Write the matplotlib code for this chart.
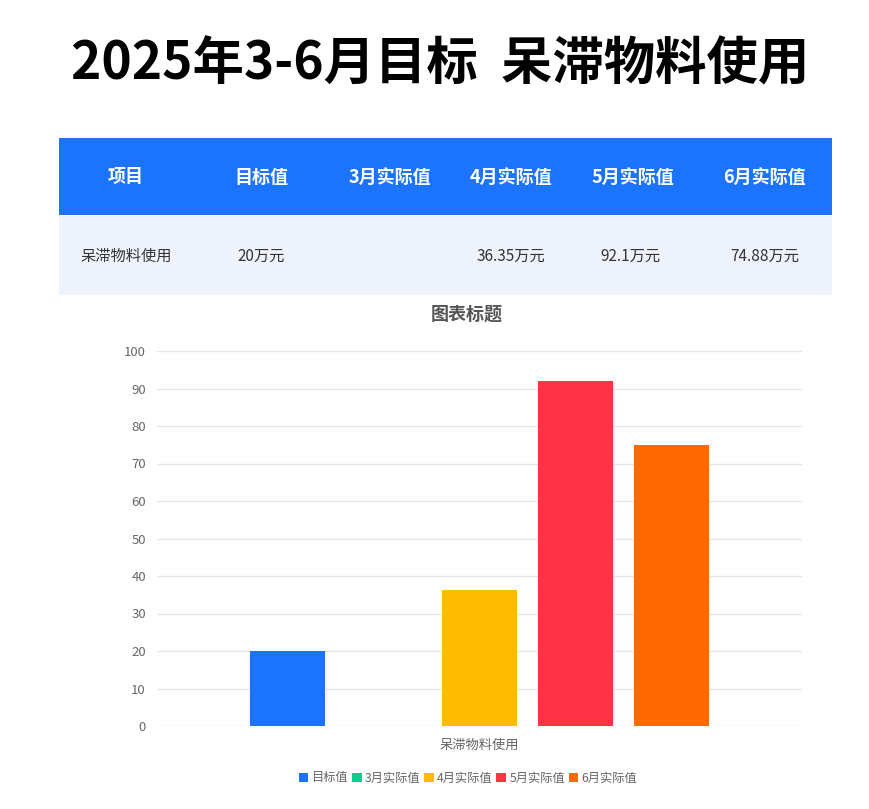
import numpy as np
import matplotlib
matplotlib.use("Agg")
import matplotlib.pyplot as plt
from matplotlib.patches import Rectangle, Patch

plt.rcParams['font.family'] = ['Noto Sans CJK SC', 'DejaVu Sans']

# 数据
title = "2025年3-6月目标  呆滞物料使用"
headers = ["项目", "目标值", "3月实际值", "4月实际值", "5月实际值", "6月实际值"]
row_cells = ["呆滞物料使用", "20万元", "", "36.35万元", "92.1万元", "74.88万元"]
category = "呆滞物料使用"
series_names = ["目标值", "3月实际值", "4月实际值", "5月实际值", "6月实际值"]
series_values = [20, np.nan, 36.35, 92.1, 74.88]
series_colors = ["#1c73fe", "#14c98a", "#ffbb00", "#ff3344", "#ff6a00"]

W, H = 870, 809
fig = plt.figure(figsize=(W / 100, H / 100), dpi=100)


def fx(x):
    return x / W


def fy(y):
    return 1 - y / H


# 大标题
fig.text(fx(440), fy(64), title, ha='center', va='center',
         fontsize=37, fontweight='bold', color='black')

# 表格
fig.add_artist(Rectangle((fx(59), fy(215)), fx(832) - fx(59), fy(138) - fy(215),
                         transform=fig.transFigure, facecolor="#1c73fe", edgecolor='none'))
fig.add_artist(Rectangle((fx(59), fy(295)), fx(832) - fx(59), fy(216) - fy(295),
                         transform=fig.transFigure, facecolor="#eef3fe", edgecolor='none'))
col_x = [126, 261, 390, 511, 633, 764]
for x, h in zip(col_x, headers):
    fig.text(fx(x), fy(177), h, ha='center', va='center', fontsize=13,
             fontweight='bold', color='white')
row_x = [126, 261, 390, 511, 630, 765]
for x, c in zip(row_x, row_cells):
    fig.text(fx(x), fy(256), c, ha='center', va='center', fontsize=11, color='#333333')

# 图表
fig.text(fx(467), fy(314), "图表标题", ha='center', va='center', fontsize=13,
         fontweight='bold', color='#555555')

ax = fig.add_axes([fx(157), fy(726), fx(802) - fx(157), fy(351) - fy(726)])
step = 96 / 645
width = 75 / 645
for i, (name, v, c) in enumerate(zip(series_names, series_values, series_colors)):
    ax.bar(0 + (i - 2) * step, v, width=width, color=c, label=name, zorder=3)

ax.set_xlim(-0.5, 0.5)
ax.set_ylim(0, 100)
ax.set_yticks(np.arange(0, 101, 10))
ax.set_xticks([0])
ax.set_xticklabels([category])
ax.tick_params(axis='both', length=0, labelsize=9.5, labelcolor='#666666')
ax.tick_params(axis='x', pad=9)
ax.tick_params(axis='y', pad=8)
ax.grid(axis='y', color='#e6e6e6', linewidth=1, zorder=0)
for s in ax.spines.values():
    s.set_visible(False)

handles = [Patch(facecolor=c, label=n) for n, c in zip(series_names, series_colors)]
fig.legend(handles=handles, loc='center', bbox_to_anchor=(fx(468), fy(778)), ncol=5,
           frameon=False, fontsize=8.8, handlelength=0.8, handleheight=0.8,
           handletextpad=0.25, columnspacing=0.3, labelcolor='#666666')

fig.savefig("out.png", dpi=100)
